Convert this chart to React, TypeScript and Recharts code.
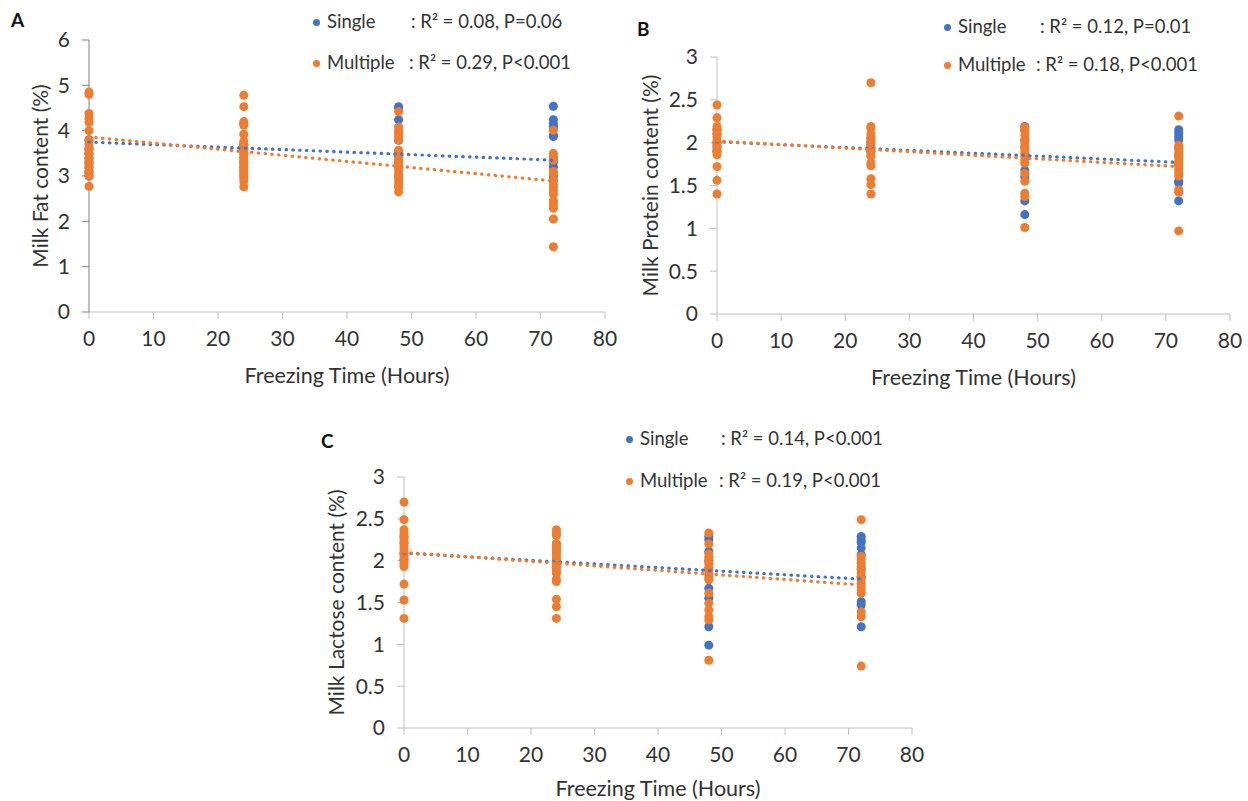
import React from "react";
import { ScatterChart, Scatter, XAxis, YAxis, ZAxis } from "recharts";

// freezing times (hours) where samples were taken
const hours = [0, 24, 48, 72];
const trendHours = [0, 72];
const xTicks = [0, 10, 20, 30, 40, 50, 60, 70, 80];
const fatTicks = [0, 1, 2, 3, 4, 5, 6];
const halfTicks = [0, 0.5, 1, 1.5, 2, 2.5, 3];

// Panel A - milk fat (%)
const fatSingle = [
  [3.8, 3.6, 3.5, 3.4, 3.3, 3.2, 3.1, 3.0],
  [3.7, 3.6, 3.5, 3.4, 3.3, 3.2, 3.1, 3.0],
  [4.53, 4.5, 4.24, 3.79, 3.46, 3.3, 3.2, 3.0],
  [4.54, 4.24, 4.16, 4.1, 4.05, 3.9, 3.87, 3.4, 3.3, 3.2, 3.0, 2.9],
];
const fatMultiple = [
  [4.85, 4.8, 4.38, 4.27, 4.18, 4.0, 3.79, 3.7, 3.62, 3.55, 3.48, 3.4, 3.33, 3.25, 3.18, 3.1, 3.05, 3.0, 2.77],
  [4.78, 4.53, 4.2, 4.15, 4.12, 3.92, 3.76, 3.68, 3.6, 3.55, 3.5, 3.43, 3.35, 3.28, 3.2, 3.12, 3.05, 2.95, 2.88, 2.76],
  [4.42, 4.08, 4.0, 3.95, 3.88, 3.8, 3.57, 3.5, 3.42, 3.35, 3.28, 3.2, 3.12, 3.05, 2.98, 2.9, 2.82, 2.75, 2.65],
  [4.01, 3.5, 3.43, 3.35, 3.1, 3.05, 2.9, 2.8, 2.75, 2.68, 2.6, 2.45, 2.42, 2.35, 2.29, 2.05, 1.44],
];
const fatSingleTrend = [3.75, 3.35];
const fatMultipleTrend = [3.86, 2.89];

// Panel B - milk protein (%)
const proteinSingle = [
  [2.15, 2.1, 2.0, 1.95, 1.9],
  [2.05, 2.0, 1.95, 1.9],
  [2.19, 2.15, 2.03, 1.95, 1.68, 1.6, 1.32, 1.16],
  [2.15, 2.11, 2.07, 2.03, 1.95, 1.85, 1.75, 1.55, 1.53, 1.32],
];
const proteinMultiple = [
  [2.44, 2.29, 2.19, 2.15, 2.11, 2.07, 2.03, 2.0, 1.97, 1.93, 1.89, 1.86, 1.72, 1.56, 1.4],
  [2.7, 2.19, 2.17, 2.1, 2.06, 2.02, 1.98, 1.94, 1.9, 1.86, 1.84, 1.76, 1.73, 1.58, 1.51, 1.4],
  [2.18, 2.13, 2.08, 2.03, 1.99, 1.95, 1.91, 1.87, 1.84, 1.8, 1.76, 1.64, 1.55, 1.41, 1.37, 1.01],
  [2.31, 1.97, 1.93, 1.89, 1.85, 1.81, 1.77, 1.73, 1.69, 1.65, 1.61, 1.45, 1.42, 0.97],
];
const proteinSingleTrend = [2.01, 1.77];
const proteinMultipleTrend = [2.02, 1.72];

// Panel C - milk lactose (%)
const lactoseSingle = [
  [2.29, 2.21, 2.09, 2.01],
  [2.2, 2.12, 2.0, 1.92],
  [2.29, 2.25, 2.11, 2.0, 1.9, 1.67, 1.55, 1.21, 0.99],
  [2.29, 2.25, 2.22, 2.15, 2.07, 1.9, 1.8, 1.51, 1.47, 1.21],
];
const lactoseMultiple = [
  [2.7, 2.49, 2.37, 2.33, 2.29, 2.25, 2.21, 2.17, 2.13, 2.09, 2.05, 2.01, 1.97, 1.93, 1.72, 1.53, 1.31],
  [2.37, 2.33, 2.3, 2.2, 2.16, 2.12, 2.08, 2.04, 2.0, 1.96, 1.92, 1.88, 1.85, 1.78, 1.75, 1.54, 1.45, 1.31],
  [2.33, 2.2, 2.08, 2.04, 2.0, 1.96, 1.92, 1.88, 1.84, 1.8, 1.77, 1.61, 1.49, 1.41, 1.33, 1.29, 0.81],
  [2.49, 2.05, 2.01, 1.97, 1.93, 1.89, 1.85, 1.81, 1.77, 1.73, 1.69, 1.65, 1.61, 1.39, 1.33, 0.74],
];
const lactoseSingleTrend = [2.09, 1.78];
const lactoseMultipleTrend = [2.1, 1.71];

const BLUE = "#4472C4";
const ORANGE = "#ED7D31";
const TEXT = "#333333";
const FONT = "Lato, 'Open Sans', sans-serif";

const toPoints = (groups: number[][]) =>
  groups.flatMap((vals, i) => vals.map((v) => ({ x: hours[i], y: v })));
const toTrend = (vals: number[]) => vals.map((v, i) => ({ x: trendHours[i], y: v }));

const Y_W = 70;
const X_H = 75;

interface PanelProps {
  box: { left: number; top: number; width: number; height: number };
  plot: { left: number; top: number; right: number; bottom: number };
  yLabel: string;
  yLabelX: number;
  xLabelBase: number;
  yMax: number;
  yTicks: number[];
  yAxisColor: string;
  single: number[][];
  multiple: number[][];
  singleTrend: number[];
  multipleTrend: number[];
}

function Panel(p: PanelProps) {
  const { box, plot } = p;
  const margin = {
    top: plot.top - box.top,
    left: plot.left - box.left - Y_W,
    right: box.left + box.width - plot.right,
    bottom: box.top + box.height - plot.bottom - X_H,
  };
  const dotted = (color: string) => ({
    stroke: color,
    strokeWidth: 3.2,
    strokeDasharray: "0.5 6.3",
    strokeLinecap: "round" as const,
  });
  return (
    <div style={{ position: "absolute", left: box.left, top: box.top }}>
      <ScatterChart width={box.width} height={box.height} margin={margin}>
        <XAxis
          type="number"
          dataKey="x"
          domain={[0, 80]}
          ticks={xTicks}
          height={X_H}
          tickSize={7}
          tickMargin={12}
          stroke="#bfbfbf"
          tick={{ fill: TEXT, fontSize: 21, fontFamily: FONT }}
          label={{
            value: "Freezing Time (Hours)",
            position: "insideBottom",
            offset: plot.bottom + X_H - p.xLabelBase,
            fill: TEXT,
            fontSize: 21.5,
            fontFamily: FONT,
          }}
        />
        <YAxis
          type="number"
          dataKey="y"
          domain={[0, p.yMax]}
          ticks={p.yTicks}
          width={Y_W}
          tickSize={7}
          tickMargin={12}
          stroke={p.yAxisColor}
          tick={{ fill: TEXT, fontSize: 21, fontFamily: FONT }}
          label={{
            value: p.yLabel,
            angle: -90,
            position: "insideLeft",
            offset: p.yLabelX - (plot.left - Y_W),
            fill: TEXT,
            fontSize: 21,
            fontFamily: FONT,
            style: { textAnchor: "middle" },
          }}
        />
        <ZAxis range={[56, 56]} />
        <Scatter data={toPoints(p.single)} fill={BLUE} isAnimationActive={false} />
        <Scatter data={toPoints(p.multiple)} fill={ORANGE} isAnimationActive={false} />
        <Scatter
          data={toTrend(p.singleTrend)}
          line={dotted(BLUE)}
          shape={() => <g />}
          isAnimationActive={false}
        />
        <Scatter
          data={toTrend(p.multipleTrend)}
          line={dotted(ORANGE)}
          shape={() => <g />}
          isAnimationActive={false}
        />
      </ScatterChart>
    </div>
  );
}

function LegendRow({ x, y, color, name, stat, statX }: { x: number; y: number; color: string; name: string; stat: string; statX: number }) {
  const fs = 18.5;
  const txt: React.CSSProperties = {
    position: "absolute",
    top: y - fs * 0.55,
    fontSize: fs,
    lineHeight: 1,
    fontFamily: FONT,
    color: TEXT,
    whiteSpace: "nowrap",
  };
  return (
    <>
      <div
        style={{
          position: "absolute",
          left: x - 3.5,
          top: y - 3.5,
          width: 7,
          height: 7,
          borderRadius: "50%",
          background: color,
        }}
      />
      <div style={{ ...txt, left: x + 11 }}>{name}</div>
      <div style={{ ...txt, left: statX }}>{stat}</div>
    </>
  );
}

function Letter({ x, y, s }: { x: number; y: number; s: string }) {
  return (
    <div
      style={{
        position: "absolute",
        left: x,
        top: y,
        fontSize: 19,
        lineHeight: 1,
        fontWeight: 700,
        fontFamily: FONT,
        color: "#111",
      }}
    >
      {s}
    </div>
  );
}

export default function App() {
  return (
    <div
      style={{
        position: "absolute",
        left: 0,
        top: 0,
        width: 1248,
        height: 801,
        background: "#fff",
        overflow: "hidden",
      }}
    >
      <Panel
        box={{ left: 0, top: 0, width: 620, height: 395 }}
        plot={{ left: 89, top: 40, right: 605, bottom: 312 }}
        yLabel="Milk Fat content (%)"
        yLabelX={41}
        xLabelBase={383}
        yMax={6}
        yTicks={fatTicks}
        yAxisColor="#808080"
        single={fatSingle}
        multiple={fatMultiple}
        singleTrend={fatSingleTrend}
        multipleTrend={fatMultipleTrend}
      />
      <Panel
        box={{ left: 620, top: 0, width: 628, height: 395 }}
        plot={{ left: 717, top: 57, right: 1230, bottom: 314 }}
        yLabel="Milk Protein content (%)"
        yLabelX={651}
        xLabelBase={385}
        yMax={3}
        yTicks={halfTicks}
        yAxisColor="#c0c0c0"
        single={proteinSingle}
        multiple={proteinMultiple}
        singleTrend={proteinSingleTrend}
        multipleTrend={proteinMultipleTrend}
      />
      <Panel
        box={{ left: 300, top: 400, width: 640, height: 401 }}
        plot={{ left: 404, top: 477, right: 912, bottom: 728 }}
        yLabel="Milk Lactose content (%)"
        yLabelX={337}
        xLabelBase={796}
        yMax={3}
        yTicks={halfTicks}
        yAxisColor="#c0c0c0"
        single={lactoseSingle}
        multiple={lactoseMultiple}
        singleTrend={lactoseSingleTrend}
        multipleTrend={lactoseMultipleTrend}
      />

      <Letter x={11} y={10} s="A" />
      <LegendRow x={316} y={22} color={BLUE} name="Single" stat=": R² = 0.08, P=0.06" statX={411} />
      <LegendRow x={316} y={63} color={ORANGE} name="Multiple" stat=": R² = 0.29, P<0.001" statX={409} />

      <Letter x={637} y={19} s="B" />
      <LegendRow x={947} y={27} color={BLUE} name="Single" stat=": R² = 0.12, P=0.01" statX={1040} />
      <LegendRow x={947} y={65} color={ORANGE} name="Multiple" stat=": R² = 0.18, P<0.001" statX={1036} />

      <Letter x={321} y={431} s="C" />
      <LegendRow x={629} y={439} color={BLUE} name="Single" stat=": R² = 0.14, P<0.001" statX={721} />
      <LegendRow x={629} y={481} color={ORANGE} name="Multiple" stat=": R² = 0.19, P<0.001" statX={719} />
    </div>
  );
}
